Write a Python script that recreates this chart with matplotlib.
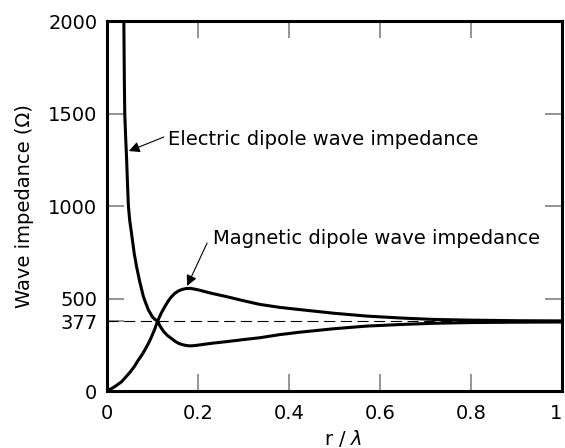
import numpy as np
import matplotlib.pyplot as plt

# ---------------------
# values
# ---------------------
r_electric = [0.037, 0.0375, 0.038, 0.039, 0.041, 0.043, 0.045, 0.047, 0.050, 0.054,
              0.060, 0.065, 0.072, 0.080, 0.086, 0.091, 0.100, 0.105, 0.111, 0.118,
              0.125, 0.133, 0.142, 0.150, 0.157, 0.165, 0.174, 0.182, 0.190, 0.200,
              0.230, 0.263, 0.300, 0.336, 0.380, 0.424, 0.500, 0.571, 0.650, 0.717,
              0.800, 0.900, 1.000]
z_electric = [2000, 1850, 1700, 1500, 1370, 1260, 1120, 1000, 920, 850,
              740, 672, 590, 510, 470, 438, 400, 388, 377, 345,
              320, 300, 283, 268, 258, 251, 246, 244, 245, 248,
              258, 267, 278, 288, 305, 318, 337, 351, 360, 366,
              370, 372, 373]

r_magnetic = [0.0, 0.016, 0.032, 0.050, 0.060, 0.069, 0.078, 0.085, 0.092, 0.098,
              0.105, 0.111, 0.119, 0.127, 0.134, 0.140, 0.149, 0.157, 0.165, 0.174,
              0.182, 0.190, 0.200, 0.230, 0.263, 0.300, 0.336, 0.380, 0.424, 0.500,
              0.571, 0.650, 0.717, 0.800, 0.900, 1.000]
z_magnetic = [0, 22, 50, 100, 132, 168, 200, 230, 262, 294,
              335, 377, 420, 456, 484, 505, 528, 541, 549, 554,
              555, 552, 547, 528, 510, 488, 468, 452, 440, 420,
              405, 394, 387, 383, 380, 379]

z_free_space = 377
x_ticks = [0, 0.2, 0.4, 0.6, 0.8, 1]
x_tick_labels = ["0", "0.2", "0.4", "0.6", "0.8", "1"]
y_ticks = [0, 377, 500, 1000, 1500, 2000]

plt.rcParams['font.family'] = ['DejaVu Sans']
plt.rcParams['font.size'] = 14

fig = plt.figure(figsize=(5.65, 4.48), dpi=100)
ax = fig.add_axes([0.1894, 0.1272, 0.8053, 0.8259])

ax.plot(r_electric, z_electric, color='black', lw=2.2, solid_joinstyle='round')
ax.plot(r_magnetic, z_magnetic, color='black', lw=2.2, solid_joinstyle='round')
ax.axhline(z_free_space, color='black', lw=0.8, dashes=(10, 5))

ax.set_xlim(0, 1)
ax.set_ylim(0, 2000)
ax.set_xticks(x_ticks)
ax.set_xticklabels(x_tick_labels)
ax.set_yticks(y_ticks)

ax.tick_params(direction='in', length=12, width=1.1, color='#777777',
               top=True, right=True, labelsize=14)
ax.tick_params(axis='y', pad=7)
ax.tick_params(axis='x', pad=9)
# no tick mark at 377, just the label
for t in ax.yaxis.get_major_ticks():
    if t.get_loc() == z_free_space:
        t.tick1line.set_visible(False)
        t.tick2line.set_visible(False)
# keep the last x label inside the figure
ax.get_xticklabels()[-1].set_horizontalalignment('right')
ax.get_xticklabels()[-1].set_x(1.008)

for s in ax.spines.values():
    s.set_linewidth(2.2)
    s.set_color('black')

ax.set_ylabel("Wave impedance (\u03a9)", fontsize=14)
ax.yaxis.set_label_coords(-0.16, 0.5)
ax.set_xlabel(r"r / $\lambda$", fontsize=14)
ax.xaxis.set_label_coords(0.52, -0.1)

arrow = dict(arrowstyle='-|>', color='black', lw=0.8, mutation_scale=16,
             shrinkA=0, shrinkB=0)
ax.annotate("", xy=(0.048, 1297), xytext=(0.125, 1373), arrowprops=arrow)
ax.text(0.134, 1362, "Electric dipole wave impedance", va='center', ha='left', fontsize=14)

ax.annotate("", xy=(0.176, 568), xytext=(0.220, 800), arrowprops=arrow)
ax.text(0.233, 827, "Magnetic dipole wave impedance", va='center', ha='left', fontsize=14)

plt.savefig("out.png", dpi=100)
